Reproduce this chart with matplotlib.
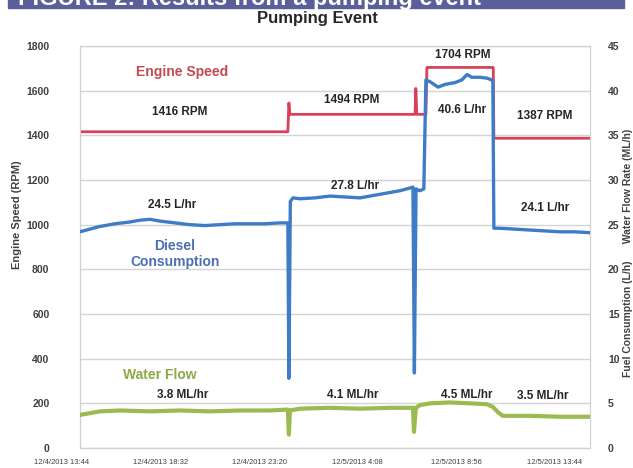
import matplotlib
matplotlib.use("Agg")
import matplotlib.pyplot as plt
from matplotlib.patches import Rectangle

plt.rcParams['font.family'] = ['Liberation Sans', 'DejaVu Sans']

# ---- data (time in hours after 12/4/2013 13:44) ----
tick_hours = [0, 4.8, 9.6, 14.4, 19.2, 24.0]
tick_labels = ["12/4/2013 13:44", "12/4/2013 18:32", "12/4/2013 23:20",
               "12/5/2013 4:08", "12/5/2013 8:56", "12/5/2013 13:44"]

rpm_t = [0.88, 11.00, 11.05, 11.10, 17.19, 17.23, 17.28, 17.72, 17.77, 21.00, 21.03, 25.71]
rpm_v = [1416, 1416, 1545, 1494, 1494, 1610, 1494, 1494, 1704, 1704, 1387, 1387]

fuel_t = [0.88, 1.36, 1.85, 2.58, 3.31, 3.80, 4.28, 4.77, 5.50, 6.23, 6.96, 7.69, 8.42,
          9.15, 9.88, 10.61, 11.00, 11.05, 11.12, 11.25, 11.59, 12.32, 13.05, 13.78,
          14.51, 15.24, 15.97, 16.46, 16.94, 17.09, 17.16, 17.24, 17.33, 17.43, 17.62,
          17.72, 17.92, 18.31, 18.65, 19.13, 19.47, 19.72, 19.96, 20.35, 20.69, 20.93,
          20.98, 21.03, 21.32, 22.05, 22.78, 23.52, 24.25, 24.98, 25.71]
fuel_v = [24.2, 24.5, 24.8, 25.1, 25.3, 25.5, 25.6, 25.4, 25.2, 25.0, 24.9, 25.0, 25.1,
          25.1, 25.1, 25.2, 25.2, 7.8, 27.6, 28.0, 27.9, 28.0, 28.2, 28.1,
          28.0, 28.3, 28.6, 28.8, 29.1, 29.2, 8.4, 29.0, 28.9, 28.8, 29.0,
          41.2, 41.0, 40.4, 40.7, 40.9, 41.2, 41.8, 41.5, 41.5, 41.4, 41.2,
          41.1, 24.6, 24.6, 24.5, 24.4, 24.3, 24.2, 24.2, 24.1]

water_t = [0.88, 1.36, 1.85, 2.82, 4.28, 5.74, 7.20, 8.66, 10.12, 11.00, 11.05, 11.10,
           11.59, 13.05, 14.51, 15.97, 17.09, 17.14, 17.23, 17.43, 17.92, 18.89, 19.86,
           20.69, 20.98, 21.23, 21.47, 22.78, 24.25, 25.71]
water_v = [3.7, 3.9, 4.1, 4.2, 4.1, 4.2, 4.1, 4.2, 4.2, 4.3, 1.5, 4.2,
           4.4, 4.5, 4.4, 4.5, 4.5, 1.8, 4.5, 4.8, 5.0, 5.1, 5.0,
           4.9, 4.6, 4.0, 3.6, 3.6, 3.5, 3.5]

# annotation labels: (text, hour, rpm-axis value)
value_labels = [("1416 RPM", 5.74, 1504), ("1494 RPM", 14.12, 1558),
                ("1704 RPM", 19.52, 1760), ("40.6 L/hr", 19.47, 1513),
                ("1387 RPM", 23.52, 1487), ("24.5 L/hr", 5.36, 1088),
                ("27.8 L/hr", 14.26, 1173), ("24.1 L/hr", 23.52, 1075),
                ("3.8 ML/hr", 5.89, 237), ("4.1 ML/hr", 14.17, 237),
                ("4.5 ML/hr", 19.72, 237), ("3.5 ML/hr", 23.42, 233)]

W, H = 633, 468
fig = plt.figure(figsize=(W / 100, H / 100), dpi=100)
fig.patch.set_facecolor('white')

# header banner (cut off at top, as in the source)
fig.patches.append(Rectangle((8 / W, 1 - 7.5 / H), 616 / W, 7.5 / H,
                             transform=fig.transFigure, color='#5a5e99', zorder=0))
fig.text(18 / W, 1 - 5 / H, "FIGURE 2: Results from a pumping event", color='white',
         fontsize=17, fontweight='bold', va='baseline', ha='left')

ax = fig.add_axes([80 / W, 1 - 448 / H, 510 / W, 402 / H])
ax2 = ax.twinx()

ax.set_xlim(0.88, 25.71)
ax.set_ylim(0, 1800)
ax2.set_ylim(0, 45)
ax.set_yticks(range(0, 1801, 200))
ax2.set_yticks(range(0, 46, 5))
ax.set_xticks([])
ax.grid(axis='y', color='#d4d4d4', linewidth=1)
ax.set_axisbelow(True)

for a in (ax, ax2):
    for s in a.spines.values():
        s.set_color('#d0d0d0')
        s.set_linewidth(0.8)
    a.tick_params(length=0, labelsize=7.5, labelcolor='#404040')
for lab in ax.get_yticklabels() + ax2.get_yticklabels():
    lab.set_fontweight('bold')
ax.tick_params(axis='y', pad=22)
ax2.tick_params(axis='y', pad=13)

ax.plot(rpm_t, rpm_v, color='#d9415a', linewidth=2.0, zorder=3)
ax2.plot(fuel_t, fuel_v, color='#3f7cc8', linewidth=2.4, zorder=3)
ax2.plot(water_t, water_v, color='#9bbb50', linewidth=3.0, zorder=3)

for txt, hx, yv in value_labels:
    ax.text(hx, yv, txt, ha='center', va='center', fontsize=8.5,
            fontweight='bold', color='#262626', zorder=5)

ax.text(5.84, 1684, "Engine Speed", ha='center', va='center', fontsize=10,
        color='#c44a52', fontweight='bold', zorder=5)
ax.text(5.50, 868, "Diesel\nConsumption", ha='center', va='center', fontsize=10,
        color='#4a6fb5', fontweight='bold', linespacing=1.2, zorder=5)
ax.text(4.77, 327, "Water Flow", ha='center', va='center', fontsize=10,
        color='#8caa45', fontweight='bold', zorder=5)

for hx, lab in zip(tick_hours, tick_labels):
    ax.text(hx, -0.035, lab, transform=ax.get_xaxis_transform(), ha='center',
            va='center', fontsize=5.5, color='#404040', clip_on=False)

ax.set_ylabel("Engine Speed (RPM)", fontsize=8, fontweight='bold', color='#404040')
ax.yaxis.set_label_coords(-58 / 510, 0.58)
ax2.set_ylabel("Fuel Consumption (L/h)      Water Flow Rate (ML/h)", fontsize=7.5,
               fontweight='bold', color='#404040', rotation=90)
ax2.yaxis.set_label_coords(1 + 33 / 510, 0.485)

fig.text(317 / W, 1 - 18 / H, "Pumping Event", ha='center', va='center',
         fontsize=12, fontweight='bold', color='#262626')

fig.savefig("out.png", dpi=100)
